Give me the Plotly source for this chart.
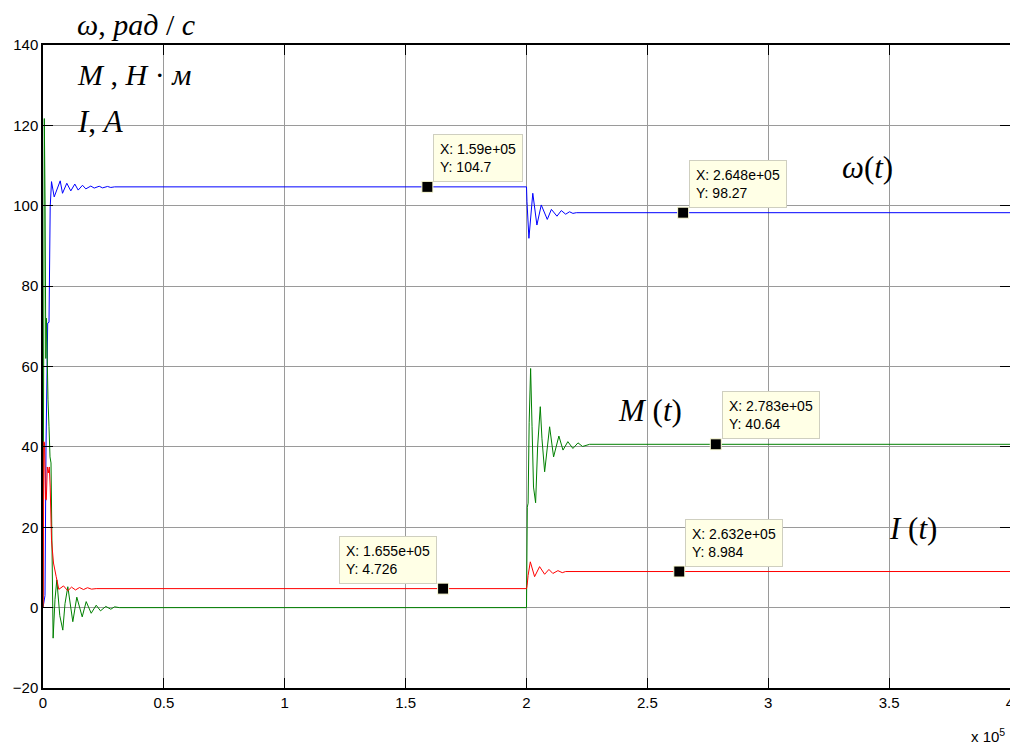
import plotly.graph_objects as go

# time in units of 1e5
t_omega = [0, 0.0083, 0.0124, 0.0165, 0.0194, 0.0248, 0.0261, 0.0281, 0.0298, 0.0352,
           0.0463, 0.0712, 0.0807, 0.0985, 0.115, 0.1316, 0.1456, 0.1634, 0.1771, 0.1978,
           0.2118, 0.2325, 0.2462, 0.2669, 0.2805, 0.296,
           2.0, 2.002, 2.010, 2.026, 2.043, 2.061, 2.086, 2.103, 2.126, 2.144, 2.162,
           2.178, 2.192, 2.206, 4.0]
omega = [0, 3, 40, 58, 70.8, 71, 87, 88, 99.7, 106,
         102.2, 106.2, 103.1, 105.6, 103.7, 105.4, 103.9, 105.1, 104.2, 104.9,
         104.4, 104.85, 104.45, 104.8, 104.55, 104.7,
         104.7, 101, 91.9, 103.1, 95.2, 100.2, 96.6, 99.1, 97.4, 98.8, 97.9,
         98.5, 98.1, 98.27, 98.27]

t_current = [0, 0.001, 0.0033, 0.0062, 0.0103, 0.0137, 0.0178, 0.0219, 0.0261, 0.0298,
             0.0352, 0.0434, 0.0546, 0.0654, 0.0848, 0.1026, 0.1179, 0.1345, 0.151,
             0.1676, 0.1841, 0.2007, 0.22,
             2.0, 2.0025, 2.0066, 2.0157, 2.0335, 2.0542, 2.075, 2.0927, 2.109, 2.13,
             2.148, 2.162, 4.0]
current = [0, 2, 41.3, 41, 27, 26.8, 35, 33.5, 35, 30,
           16.8, 11.1, 7.7, 4.55, 5.4, 4.2, 5.1, 4.4, 5.0,
           4.5, 4.95, 4.6, 4.73,
           4.73, 5.5, 8, 11.4, 7.7, 10.2, 8.3, 9.5, 8.5, 9.2,
           8.7, 8.98, 8.984]

t_torque = [0, 0.002, 0.0054, 0.0087, 0.0116, 0.0145, 0.0178, 0.0207, 0.0248, 0.029,
            0.0331, 0.0372, 0.0418, 0.0496, 0.0571, 0.0695, 0.0819, 0.091, 0.1026,
            0.1233, 0.1398, 0.1622, 0.1787, 0.1994, 0.2201, 0.2379, 0.2598, 0.2805,
            0.296, 0.3165,
            2.0, 2.0033, 2.0066, 2.011, 2.017, 2.023, 2.029, 2.0377, 2.046, 2.057,
            2.064, 2.075, 2.085, 2.0956, 2.112, 2.134, 2.151, 2.171, 2.192, 2.213,
            2.232, 2.261, 4.0]
torque = [0, 40, 121.7, 100, 62, 72, 58, 51.7, 45, 37.5,
          36, 6.9, -7.6, 2, 6.9, -2, -5.6, 1, 5.2,
          -3.5, 2.6, -2.3, 1.5, -1.4, 0.6, -0.8, 0.3, -0.4,
          0.2, 0,
          0, 25, 26, 46, 59.5, 45, 30, 26.1, 40, 50,
          42, 33.8, 39, 45, 37.5, 42.7, 39.2, 41.3, 39.6, 41,
          40.1, 40.64, 40.64]

# data tips
tip_x = [1.59, 2.648, 2.783, 2.632, 1.655]
tip_y = [104.7, 98.27, 40.64, 8.984, 4.726]
tip_xlabel = ["1.59e+05", "2.648e+05", "2.783e+05", "2.632e+05", "1.655e+05"]
tip_ylabel = ["104.7", "98.27", "40.64", "8.984", "4.726"]
tip_side = ["right", "right", "right", "right", "left"]

x_ticks = [0, 0.5, 1, 1.5, 2, 2.5, 3, 3.5, 4]
x_ticklabels = ["0", "0.5", "1", "1.5", "2", "2.5", "3", "3.5", "4"]
y_ticks = [-20, 0, 20, 40, 60, 80, 100, 120, 140]

fig = go.Figure()
fig.add_trace(go.Scatter(x=t_omega, y=omega, mode="lines",
                         line=dict(color="#0000ff", width=1), showlegend=False))
fig.add_trace(go.Scatter(x=t_torque, y=torque, mode="lines",
                         line=dict(color="#008000", width=1), showlegend=False))
fig.add_trace(go.Scatter(x=t_current, y=current, mode="lines",
                         line=dict(color="#ff0000", width=1), showlegend=False))
fig.add_trace(go.Scatter(x=tip_x, y=tip_y, mode="markers",
                         marker=dict(symbol="square", size=11, color="black",
                                     line=dict(color="#ffffd8", width=1)),
                         showlegend=False))

annotations = []
for xv, yv, xl, yl, side in zip(tip_x, tip_y, tip_xlabel, tip_ylabel, tip_side):
    annotations.append(dict(
        x=xv, y=yv, xref="x", yref="y", showarrow=False,
        text=f"X: {xl}<br>Y: {yl}", align="left",
        xanchor="left" if side == "right" else "right", yanchor="bottom",
        xshift=6 if side == "right" else -6, yshift=5,
        font=dict(family="Liberation Sans, Arial", size=14, color="black"),
        bgcolor="#ffffe6", bordercolor="#cfcfc0", borderwidth=1, borderpad=6))

serif = "Liberation Serif, Times New Roman, serif"
W, H = 1010, 742
L, R, T, B = 43, 0, 45, 54
pw, ph = W - L - R, H - T - B


def px(xp):
    return (xp - L) / pw


def py(yp):
    return (H - B - yp) / ph


annotations += [
    dict(x=px(75), y=py(25), xref="paper", yref="paper", showarrow=False,
         xanchor="left", yanchor="middle",
         text="<i>ω</i>, <i>рад</i> / <i>с</i>",
         font=dict(family=serif, size=30, color="black")),
    dict(x=px(75), y=py(74), xref="paper", yref="paper", showarrow=False,
         xanchor="left", yanchor="middle",
         text="<i>M</i> , <i>H</i> · <i>м</i>",
         font=dict(family=serif, size=30, color="black")),
    dict(x=px(75), y=py(122), xref="paper", yref="paper", showarrow=False,
         xanchor="left", yanchor="middle",
         text="<i>I</i>, <i>A</i>",
         font=dict(family=serif, size=31, color="black")),
    dict(x=px(867), y=py(167), xref="paper", yref="paper", showarrow=False,
         xanchor="center", yanchor="middle",
         text="<i>ω</i>(<i>t</i>)", font=dict(family=serif, size=31, color="black")),
    dict(x=px(650), y=py(410), xref="paper", yref="paper", showarrow=False,
         xanchor="center", yanchor="middle",
         text="<i>M</i> (<i>t</i>)", font=dict(family=serif, size=31, color="black")),
    dict(x=px(913), y=py(528), xref="paper", yref="paper", showarrow=False,
         xanchor="center", yanchor="middle",
         text="<i>I</i> (<i>t</i>)", font=dict(family=serif, size=31, color="black")),
    dict(x=px(969), y=py(735), xref="paper", yref="paper", showarrow=False,
         xanchor="left", yanchor="middle",
         text="x 10<sup>5</sup>",
         font=dict(family="Liberation Sans, Arial", size=15, color="black")),
]

tickfont = dict(family="Liberation Sans, Arial", size=15, color="black")

fig.update_layout(
    width=W, height=H,
    margin=dict(l=L, r=R, t=T, b=B, autoexpand=False),
    paper_bgcolor="white", plot_bgcolor="white",
    xaxis=dict(range=[0, 4], tickvals=x_ticks, ticktext=x_ticklabels,
               showgrid=True, gridcolor="#9a9a9a", gridwidth=1,
               showline=True, linecolor="black", linewidth=1.5,
               mirror="allticks", ticks="inside", ticklen=10, tickcolor="black",
               tickwidth=1, zeroline=False, tickfont=tickfont,
               ticklabeloverflow="allow"),
    yaxis=dict(range=[-20, 140], tickvals=y_ticks,
               showgrid=True, gridcolor="#9a9a9a", gridwidth=1,
               showline=True, linecolor="black", linewidth=1.5,
               mirror="ticks", ticks="inside", ticklen=10, tickcolor="black",
               tickwidth=1, zeroline=False, tickfont=tickfont,
               ticklabeloverflow="allow"),
    annotations=annotations,
)

fig.write_html("out.html")
